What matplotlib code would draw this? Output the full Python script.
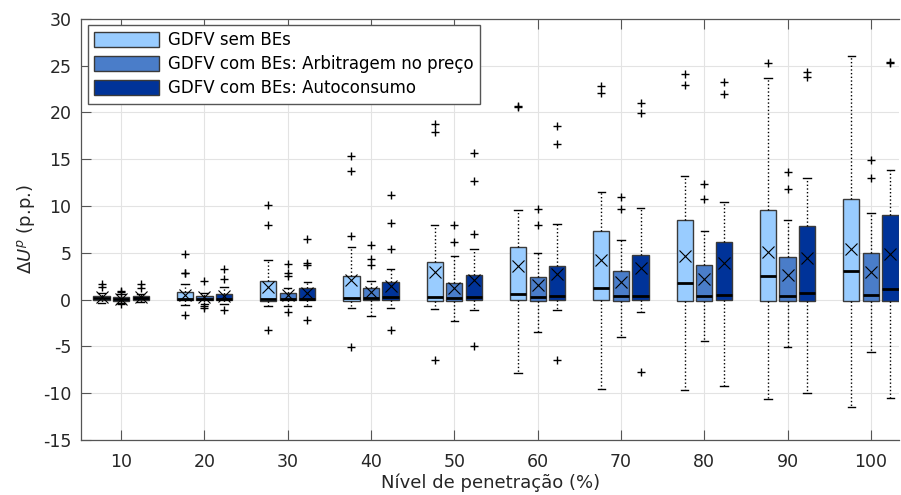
import matplotlib
matplotlib.use("Agg")

import matplotlib.pyplot as plt
from matplotlib.patches import Patch


plt.rcParams["axes.unicode_minus"] = False

# Penetration levels (%)
levels = [10, 20, 30, 40, 50, 60, 70, 80, 90, 100]

series_names = [
    "GDFV sem BEs",
    "GDFV com BEs: Arbitragem no preço",
    "GDFV com BEs: Autoconsumo",
]
series_colors = ["#99ccff", "#4a7dc9", "#003399"]

# Series 1: GDFV sem BEs
s1_q1 = [-0.07, -0.07, -0.1, -0.1, -0.1, -0.07, -0.07, -0.14, -0.18, -0.18]
s1_med = [0.18, 0.07, 0.1, 0.2, 0.25, 0.64, 1.25, 1.79, 2.5, 3.04]
s1_q3 = [0.43, 0.86, 1.96, 2.55, 4.0, 5.6, 7.36, 8.5, 9.54, 10.75]
s1_wlo = [-0.36, -0.57, -0.7, -0.9, -1.0, -7.86, -9.5, -9.64, -10.6, -11.46]
s1_whi = [0.7, 1.68, 4.2, 5.65, 7.93, 9.57, 11.46, 13.2, 23.7, 26.0]
s1_mean = [0.25, 0.54, 1.4, 2.1, 2.96, 3.6, 4.2, 4.64, 5.04, 5.36]
s1_out = [
    [1.3, 1.7],
    [2.8, 2.86, 4.9, -1.68],
    [8.0, 10.07, -3.2],
    [6.8, 13.7, 15.3, -5.07],
    [17.86, 18.75, -6.43],
    [20.6, 20.7],
    [22.1, 22.8],
    [22.9, 24.14],
    [25.25],
    [],
]

# Series 2: GDFV com BEs - Arbitragem no preco
s2_q1 = [-0.1, -0.07, -0.07, -0.07, -0.1, -0.1, -0.1, -0.14, -0.1, -0.1]
s2_med = [0.07, 0.07, 0.1, 0.18, 0.2, 0.25, 0.36, 0.4, 0.43, 0.46]
s2_q3 = [0.28, 0.43, 0.7, 1.25, 1.82, 2.4, 3.04, 3.75, 4.57, 4.96]
s2_wlo = [-0.36, -0.43, -0.65, -1.8, -2.3, -3.46, -3.96, -4.39, -5.07, -5.6]
s2_whi = [0.6, 0.7, 1.25, 1.96, 4.68, 5.0, 6.32, 7.3, 8.46, 9.29]
s2_mean = [0.08, 0.25, 0.5, 0.8, 1.25, 1.54, 1.93, 2.25, 2.64, 2.9]
s2_out = [
    [0.8, 0.95, -0.45],
    [1.96, -0.64, -0.9],
    [2.5, 2.85, 3.8, -1.3],
    [3.7, 4.35, 5.8],
    [6.14, 7.96],
    [7.93, 9.64],
    [9.64, 11.0],
    [10.7, 12.3],
    [11.8, 13.64],
    [12.96, 14.93],
]

# Series 3: GDFV com BEs - Autoconsumo
s3_q1 = [-0.07, -0.07, -0.07, -0.07, -0.07, -0.07, -0.07, -0.07, -0.1, -0.1]
s3_med = [0.18, 0.1, 0.1, 0.3, 0.32, 0.36, 0.43, 0.46, 0.71, 1.1]
s3_q3 = [0.43, 0.64, 1.25, 1.9, 2.68, 3.57, 4.82, 6.14, 7.9, 9.0]
s3_wlo = [-0.3, -0.43, -0.7, -0.86, -1.07, -1.14, -1.36, -9.25, -9.96, -10.5]
s3_whi = [0.6, 1.32, 1.85, 3.3, 5.4, 8.04, 9.75, 10.46, 13.0, 13.8]
s3_mean = [0.25, 0.35, 0.7, 1.5, 2.1, 2.75, 3.36, 3.9, 4.5, 4.9]
s3_out = [
    [1.25, 1.67],
    [2.2, 3.25, -1.14],
    [3.7, 3.9, 6.5, -2.2],
    [5.46, 8.2, 11.2, -3.25],
    [7.0, 12.7, 15.7, -4.9],
    [16.6, 18.57, -6.43],
    [19.9, 20.96, -7.68],
    [22.0, 23.3],
    [23.8, 24.3],
    [25.25, 25.4],
]

series = [
    (s1_q1, s1_med, s1_q3, s1_wlo, s1_whi, s1_mean, s1_out),
    (s2_q1, s2_med, s2_q3, s2_wlo, s2_whi, s2_mean, s2_out),
    (s3_q1, s3_med, s3_q3, s3_wlo, s3_whi, s3_mean, s3_out),
]

offsets = [-2.35, 0.0, 2.35]
box_width = 1.95


fig = plt.figure(figsize=(9.01, 4.95), dpi=100)
ax = fig.add_axes([0.09, 0.111, 0.908, 0.851])

for k, (q1, med, q3, wlo, whi, mean, out) in enumerate(series):

    stats = []
    for i in range(len(levels)):
        stats.append({
            "q1": q1[i], "med": med[i], "q3": q3[i],
            "whislo": wlo[i], "whishi": whi[i],
            "mean": mean[i], "fliers": out[i],
        })

    positions = [lv + offsets[k] for lv in levels]

    ax.bxp(
        stats,
        positions=positions,
        widths=box_width,
        capwidths=0.9,
        patch_artist=True,
        showmeans=True,
        manage_ticks=False,
        boxprops=dict(facecolor=series_colors[k], edgecolor="#3a3a3a", linewidth=1.0),
        medianprops=dict(color="black", linewidth=2.0),
        whiskerprops=dict(color="black", linestyle=":", linewidth=1.0),
        capprops=dict(color="black", linewidth=1.0),
        meanprops=dict(marker="x", markeredgecolor="black", markersize=8, markeredgewidth=0.8),
        flierprops=dict(marker="+", markeredgecolor="black", markersize=6, markeredgewidth=1.0),
        zorder=3,
    )


ax.set_xlim(5.2, 103.4)
ax.set_ylim(-15, 30)
ax.set_xticks(levels)
ax.set_xticklabels([str(lv) for lv in levels])
ax.set_yticks(range(-15, 31, 5))

ax.grid(True, color="#e3e3e3", linewidth=0.8, zorder=0)
ax.set_axisbelow(True)

ax.tick_params(direction="in", top=True, right=False, labelsize=12.5,
               length=7, color="#555555", labelcolor="#262626", pad=7)
ax.tick_params(axis="x", pad=9)
for sp in ax.spines.values():
    sp.set_color("#555555")
    sp.set_linewidth(0.9)
ax.spines["right"].set_visible(False)

ax.set_xlabel("Nível de penetração (%)", fontsize=13, color="#262626", labelpad=2)
ax.set_ylabel(r"$\Delta\mathit{U^p}$ (p.p.)", fontsize=13, color="#262626")

handles = [
    Patch(facecolor=c, edgecolor="#3a3a3a", label=n)
    for c, n in zip(series_colors, series_names)
]
ax.legend(
    handles=handles,
    loc="upper left",
    bbox_to_anchor=(0.008, 0.986),
    borderaxespad=0,
    fontsize=12,
    handlelength=3.9,
    handleheight=1.0,
    handletextpad=0.5,
    labelspacing=0.35,
    borderpad=0.4,
    fancybox=False,
    edgecolor="#555555",
    framealpha=1.0,
)


plt.savefig("out.png", dpi=100)

print("Boxplot created")
